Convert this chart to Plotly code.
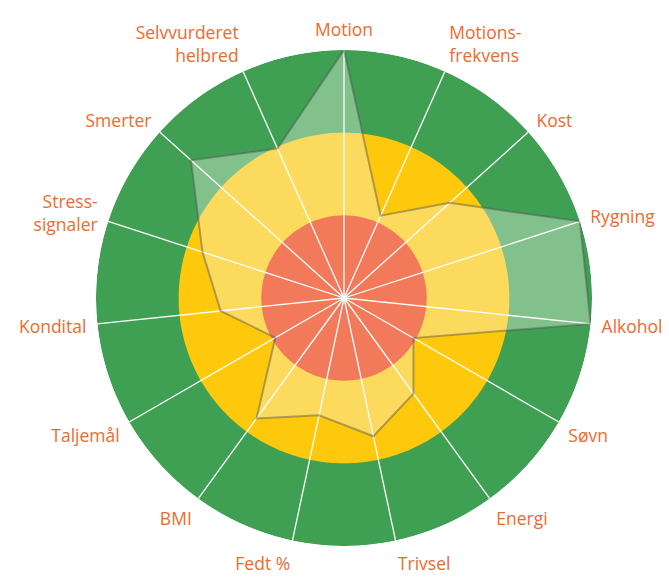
import numpy as np
import plotly.graph_objects as go

# Data
categories = ["Motion", "Motions-<br>frekvens", "Kost", "Rygning", "Alkohol", "Søvn",
              "Energi", "Trivsel", "Fedt %", "BMI", "Taljemål", "Kondital",
              "Stress-<br>signaler", "Smerter", "Selvvurderet<br>helbred"]
values = [3.0, 1.09, 1.72, 3.0, 3.0, 0.97, 1.43, 1.71, 1.45, 1.80, 0.96, 1.50, 1.80, 2.49, 1.98]

ring_bounds = [3, 2, 1]
ring_colors = ["#3FA053", "#FEC90C", "#F27A5B"]

label_color = "#EF6A2E"

n = len(categories)
angles = [i * 360.0 / n for i in range(n)]
circle_theta = np.linspace(0, 360, 361)

fig = go.Figure()

def ring(bound, color):
    return go.Scatterpolar(r=[bound] * len(circle_theta), theta=circle_theta, mode="lines",
                           fill="toself", fillcolor=color, line=dict(width=0, color=color),
                           hoverinfo="skip", showlegend=False)

# green and yellow discs
fig.add_trace(ring(ring_bounds[0], ring_colors[0]))
fig.add_trace(ring(ring_bounds[1], ring_colors[1]))

# polygon fill
fig.add_trace(go.Scatterpolar(r=values + [values[0]], theta=angles + [angles[0]], mode="lines",
                              fill="toself", fillcolor="rgba(250,250,240,0.36)",
                              line=dict(width=0), hoverinfo="skip", showlegend=False))

# red disc
fig.add_trace(ring(ring_bounds[2], ring_colors[2]))

# spokes
spoke_r, spoke_t = [], []
for a in angles:
    spoke_r += [0, ring_bounds[0], None]
    spoke_t += [a, a, None]
fig.add_trace(go.Scatterpolar(r=spoke_r, theta=spoke_t, mode="lines",
                              line=dict(color="white", width=1.3), connectgaps=False,
                              hoverinfo="skip", showlegend=False))

# polygon outline
fig.add_trace(go.Scatterpolar(r=values + [values[0]], theta=angles + [angles[0]], mode="lines",
                              line=dict(color="rgba(80,80,80,0.45)", width=2),
                              hoverinfo="skip", showlegend=False))

# page body has an 8px margin: figure is 8px smaller and shifted accordingly
W, H = 661, 569
fig.update_layout(
    width=W, height=H,
    margin=dict(l=0, r=0, t=0, b=0),
    paper_bgcolor="white",
    showlegend=False,
    polar=dict(
        domain=dict(x=[88 / W, 584 / W], y=[1 - 538 / H, 1 - 42 / H]),
        bgcolor="rgba(0,0,0,0)",
        radialaxis=dict(visible=False, range=[0, 3]),
        angularaxis=dict(
            rotation=90, direction="clockwise",
            tickmode="array", tickvals=angles, ticktext=categories,
            showgrid=False, showline=False,
            ticks="outside", ticklen=7, tickcolor="rgba(0,0,0,0)",
            tickfont=dict(family="Open Sans", size=17.5, color=label_color),
        ),
    ),
)

fig.write_html("out.html")
